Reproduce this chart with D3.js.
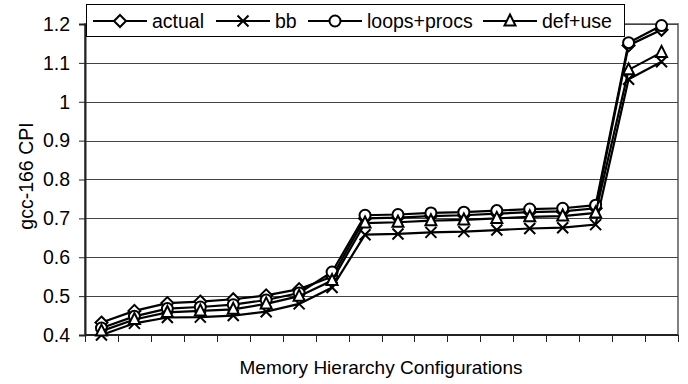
<!DOCTYPE html>
<html>
<head>
<meta charset="utf-8">
<script src="https://cdn.jsdelivr.net/npm/d3@7"></script>
<style>
  html, body { margin: 0; padding: 0; background: #fff; }
  svg { display: block; font-family: "Liberation Sans", Arial, sans-serif; }
</style>
</head>
<body>
<svg id="chart" width="688" height="384"></svg>
<script>
// Memory hierarchy configurations (18, unlabeled)
const configs = d3.range(1, 19).map(String);

// gcc-166 CPI per configuration
const actual      = [0.432, 0.462, 0.482, 0.486, 0.492, 0.502, 0.518, 0.550, 0.700, 0.702, 0.706, 0.708, 0.712, 0.716, 0.718, 0.726, 1.145, 1.185];
const bb          = [0.400, 0.430, 0.445, 0.446, 0.450, 0.460, 0.480, 0.522, 0.658, 0.660, 0.664, 0.666, 0.670, 0.674, 0.676, 0.684, 1.058, 1.103];
const loopsProcs  = [0.418, 0.448, 0.468, 0.472, 0.478, 0.490, 0.508, 0.562, 0.708, 0.710, 0.714, 0.716, 0.720, 0.724, 0.726, 0.734, 1.152, 1.196];
const defUse      = [0.410, 0.440, 0.458, 0.462, 0.466, 0.480, 0.500, 0.540, 0.688, 0.690, 0.694, 0.696, 0.700, 0.704, 0.706, 0.714, 1.082, 1.127];

const seriesNames = ["actual", "bb", "loops+procs", "def+use"];
const seriesMarkers = ["diamond", "cross", "circle", "triangle"];
const yTicks = [0.4, 0.5, 0.6, 0.7, 0.8, 0.9, 1, 1.1, 1.2];

const series = [actual, bb, loopsProcs, defUse].map((values, i) => ({
  name: seriesNames[i], marker: seriesMarkers[i], values
}));

const svg = d3.select("#chart");
const margin = { left: 85, right: 10, top: 24, bottom: 49 };
const W = 688, H = 384;
const FONT = 19.5;

const x = d3.scaleBand().domain(configs).range([margin.left, W - margin.right]);
const y = d3.scaleLinear().domain([0.4, 1.2]).range([H - margin.bottom, margin.top]);

// plot frame
svg.append("rect")
  .attr("x", margin.left).attr("y", margin.top)
  .attr("width", W - margin.right - margin.left)
  .attr("height", H - margin.bottom - margin.top)
  .attr("fill", "none").attr("stroke", "#808080").attr("stroke-width", 2);

// horizontal gridlines
svg.append("g").selectAll("line").data(yTicks.slice(1)).join("line")
  .attr("x1", margin.left).attr("x2", W - margin.right)
  .attr("y1", d => Math.round(y(d)) + 0.5).attr("y2", d => Math.round(y(d)) + 0.5)
  .attr("stroke", "#444").attr("stroke-width", 1);

// y axis
const yAxis = svg.append("g")
  .attr("transform", `translate(${margin.left},0)`)
  .call(d3.axisLeft(y).tickValues(yTicks).tickFormat(d3.format("")).tickSize(6).tickPadding(9));
yAxis.select(".domain").attr("stroke", "#222").attr("stroke-width", 2);
yAxis.selectAll(".tick line").attr("stroke", "#222");
yAxis.selectAll("text").attr("font-size", FONT).attr("fill", "#000")
  .attr("font-family", "Liberation Sans, Arial, sans-serif");

// x axis: ticks at band boundaries, no labels
const xAxisG = svg.append("g").attr("transform", `translate(0,${H - margin.bottom})`);
xAxisG.append("line")
  .attr("x1", margin.left).attr("x2", W - margin.right)
  .attr("y1", 0).attr("y2", 0).attr("stroke", "#222").attr("stroke-width", 2);
const bounds = configs.map(c => x(c)).concat([x.range()[1]]);
xAxisG.selectAll("line.tk").data(bounds).join("line").attr("class", "tk")
  .attr("x1", d => Math.round(d) + 0.5).attr("x2", d => Math.round(d) + 0.5)
  .attr("y1", 0).attr("y2", 7).attr("stroke", "#222");

// axis titles
svg.append("text")
  .attr("x", 381).attr("y", 374)
  .attr("text-anchor", "middle").attr("font-size", 19)
  .text("Memory Hierarchy Configurations");
svg.append("text")
  .attr("transform", `translate(33,176) rotate(-90)`)
  .attr("text-anchor", "middle").attr("font-size", FONT)
  .text("gcc-166 CPI");

// marker drawing
function drawMarker(g, type, cx, cy) {
  const s = 5.5;
  if (type === "diamond") {
    g.append("path").attr("d", `M${cx},${cy - s - 0.5}L${cx + s + 0.5},${cy}L${cx},${cy + s + 0.5}L${cx - s - 0.5},${cy}Z`)
      .attr("fill", "#fff").attr("stroke", "#000").attr("stroke-width", 2);
  } else if (type === "cross") {
    g.append("path").attr("d", `M${cx - s},${cy - s}L${cx + s},${cy + s}M${cx - s},${cy + s}L${cx + s},${cy - s}`)
      .attr("fill", "none").attr("stroke", "#000").attr("stroke-width", 2);
  } else if (type === "circle") {
    g.append("circle").attr("cx", cx).attr("cy", cy).attr("r", s)
      .attr("fill", "#fff").attr("stroke", "#000").attr("stroke-width", 2);
  } else if (type === "triangle") {
    g.append("path").attr("d", `M${cx},${cy - s - 1}L${cx + s},${cy + s - 1}L${cx - s},${cy + s - 1}Z`)
      .attr("fill", "#fff").attr("stroke", "#000").attr("stroke-width", 2);
  }
}

const line = d3.line()
  .x((d, i) => x(configs[i]) + x.bandwidth() / 2)
  .y(d => y(d));

series.forEach(s => {
  const g = svg.append("g");
  g.append("path").datum(s.values).attr("d", line)
    .attr("fill", "none").attr("stroke", "#000").attr("stroke-width", 2.2);
  s.values.forEach((v, i) => drawMarker(g, s.marker, x(configs[i]) + x.bandwidth() / 2, y(v)));
});

// legend
const legend = svg.append("g");
legend.append("rect").attr("x", 86.5).attr("y", 4.5).attr("width", 538).attr("height", 32)
  .attr("fill", "#fff").attr("stroke", "#000").attr("stroke-width", 1);
const legendX = [93, 216, 308, 483];
series.forEach((s, i) => {
  const lx = legendX[i], ly = 21;
  legend.append("line").attr("x1", lx).attr("x2", lx + 54).attr("y1", ly).attr("y2", ly)
    .attr("stroke", "#000").attr("stroke-width", 2);
  drawMarker(legend, s.marker, lx + 27, ly);
  legend.append("text").attr("x", lx + 59).attr("y", 27.5)
    .attr("font-size", FONT).text(s.name);
});
</script>
</body>
</html>
